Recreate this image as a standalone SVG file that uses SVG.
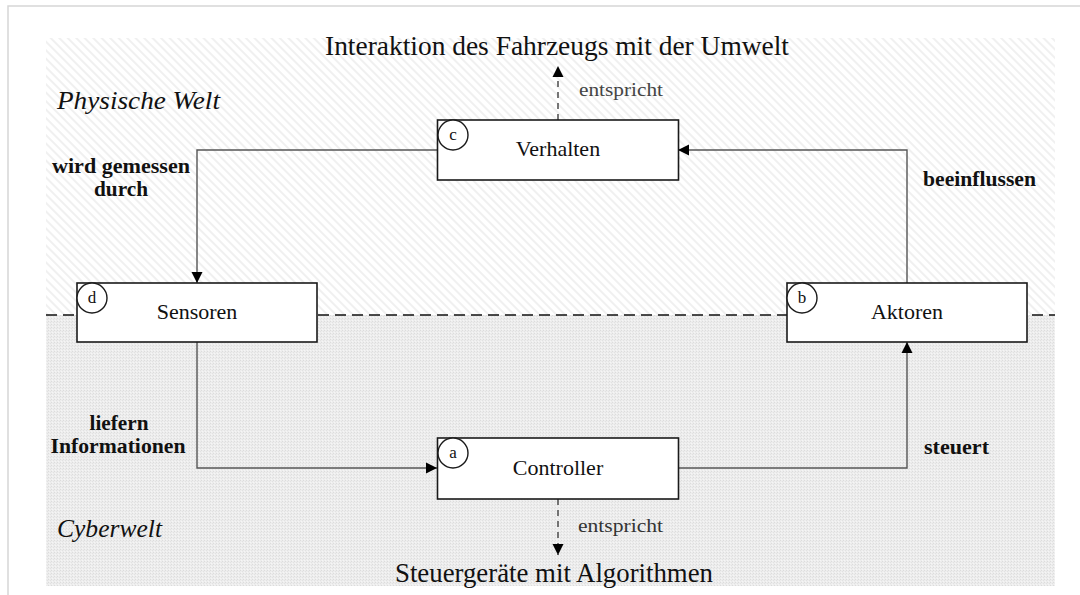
<svg xmlns="http://www.w3.org/2000/svg" width="1080" height="595" viewBox="0 0 1080 595">
  <style>
    text { font-family: "Liberation Serif", "DejaVu Serif", serif; fill: #111; }
    .title { font-size: 27px; text-anchor: middle; }
    .box { fill: #fff; stroke: #1a1a1a; stroke-width: 1.6; }
    .tag { fill: #fff; stroke: #1a1a1a; stroke-width: 1.4; }
    .boxlabel { font-size: 22px; text-anchor: middle; }
    .tagletter { font-size: 17px; text-anchor: middle; }
    .edge { font-size: 20px; font-weight: bold; }
    .mid { text-anchor: middle; }
    .world { font-size: 25px; font-style: italic; }
    .note { font-size: 19px; fill: #444; }
    .wire { fill: none; stroke: #555; stroke-width: 1.4; }
    .dash { fill: none; stroke: #555; stroke-width: 1.6; stroke-dasharray: 6 5; }
    .border { fill: none; stroke: #111; stroke-width: 1.4; stroke-dasharray: 11 6; }
  </style>
  <defs>
    <pattern id="hatch" patternUnits="userSpaceOnUse" width="6" height="6" patternTransform="rotate(45)">
      <rect width="6" height="6" fill="#ffffff"/>
      <line x1="0" y1="3" x2="6" y2="3" stroke="#e8e8e8" stroke-width="1.3"/>
    </pattern>
    <pattern id="grain" patternUnits="userSpaceOnUse" width="3" height="3">
      <rect width="3" height="3" fill="#ededed"/>
      <rect x="0" y="0" width="1" height="1" fill="#dcdcdc"/>
      <rect x="2" y="1" width="1" height="1" fill="#e2e2e2"/>
      <rect x="1" y="2" width="1" height="1" fill="#f5f5f5"/>
    </pattern>
    <marker id="arrow" markerUnits="userSpaceOnUse" markerWidth="12" markerHeight="12" refX="11" refY="6" orient="auto">
      <path d="M0,0.5 L11,6 L0,11.5 z" fill="#000"/>
    </marker>
  </defs>

  <!-- page frame -->
  <rect width="1080" height="595" fill="#fff"/>
  <path d="M8,595 V6 H1080" fill="none" stroke="#d6d6d6" stroke-width="1.5"/>

  <!-- physical and cyber regions -->
  <g id="regions">
    <rect x="46" y="38" width="1009" height="277" fill="url(#hatch)"/>
    <rect x="46" y="315" width="1009" height="271" fill="url(#grain)"/>
    <line class="border" x1="46" y1="315" x2="1055" y2="315"/>
    <text class="world" x="57" y="109" textLength="163" lengthAdjust="spacingAndGlyphs">Physische Welt</text>
    <text class="world" x="57" y="537" textLength="105" lengthAdjust="spacingAndGlyphs">Cyberwelt</text>
  </g>

  <!-- titles of the two worlds -->
  <text class="title" x="557" y="55" textLength="464" lengthAdjust="spacingAndGlyphs">Interaktion des Fahrzeugs mit der Umwelt</text>
  <text class="title" x="554" y="582" textLength="318" lengthAdjust="spacingAndGlyphs">Steuergeräte mit Algorithmen</text>

  <!-- connectors -->
  <g id="connectors">
    <path class="wire" d="M437,150 H197 V283" marker-end="url(#arrow)"/>
    <path class="wire" d="M907,283 V150 H678" marker-end="url(#arrow)"/>
    <path class="wire" d="M197,342 V468 H437" marker-end="url(#arrow)"/>
    <path class="wire" d="M678,468 H907 V342" marker-end="url(#arrow)"/>
    <path class="dash" d="M558,120 V66" marker-end="url(#arrow)"/>
    <path class="dash" d="M558,499 V555" marker-end="url(#arrow)"/>

    <text class="edge mid" x="121" y="173" textLength="138" lengthAdjust="spacingAndGlyphs">wird gemessen</text>
    <text class="edge mid" x="121" y="196" textLength="54" lengthAdjust="spacingAndGlyphs">durch</text>
    <text class="edge" x="923" y="186" textLength="113" lengthAdjust="spacingAndGlyphs">beeinflussen</text>
    <text class="edge mid" x="119" y="430" textLength="59" lengthAdjust="spacingAndGlyphs">liefern</text>
    <text class="edge mid" x="118" y="453" textLength="135" lengthAdjust="spacingAndGlyphs">Informationen</text>
    <text class="edge" x="924" y="454" textLength="65" lengthAdjust="spacingAndGlyphs">steuert</text>
    <text class="note" x="579" y="96" textLength="84" lengthAdjust="spacingAndGlyphs">entspricht</text>
    <text class="note" x="578" y="532" textLength="85" lengthAdjust="spacingAndGlyphs" style="fill:#333">entspricht</text>
  </g>

  <!-- blocks -->
  <g id="verhalten">
    <rect class="box" x="437.5" y="120" width="241" height="60"/>
    <circle class="tag" cx="453" cy="135" r="15"/>
    <text class="tagletter" x="453" y="140">c</text>
    <text class="boxlabel" x="558" y="156">Verhalten</text>
  </g>
  <g id="sensoren">
    <rect class="box" x="77" y="283" width="240" height="59"/>
    <circle class="tag" cx="92" cy="298" r="15"/>
    <text class="tagletter" x="92" y="303">d</text>
    <text class="boxlabel" x="197" y="319">Sensoren</text>
  </g>
  <g id="aktoren">
    <rect class="box" x="787" y="283" width="240" height="59"/>
    <circle class="tag" cx="802" cy="298" r="15"/>
    <text class="tagletter" x="802" y="303">b</text>
    <text class="boxlabel" x="907" y="319">Aktoren</text>
  </g>
  <g id="controller">
    <rect class="box" x="437.5" y="438" width="241" height="61"/>
    <circle class="tag" cx="453" cy="453" r="15"/>
    <text class="tagletter" x="453" y="458">a</text>
    <text class="boxlabel" x="558" y="475">Controller</text>
  </g>
</svg>
